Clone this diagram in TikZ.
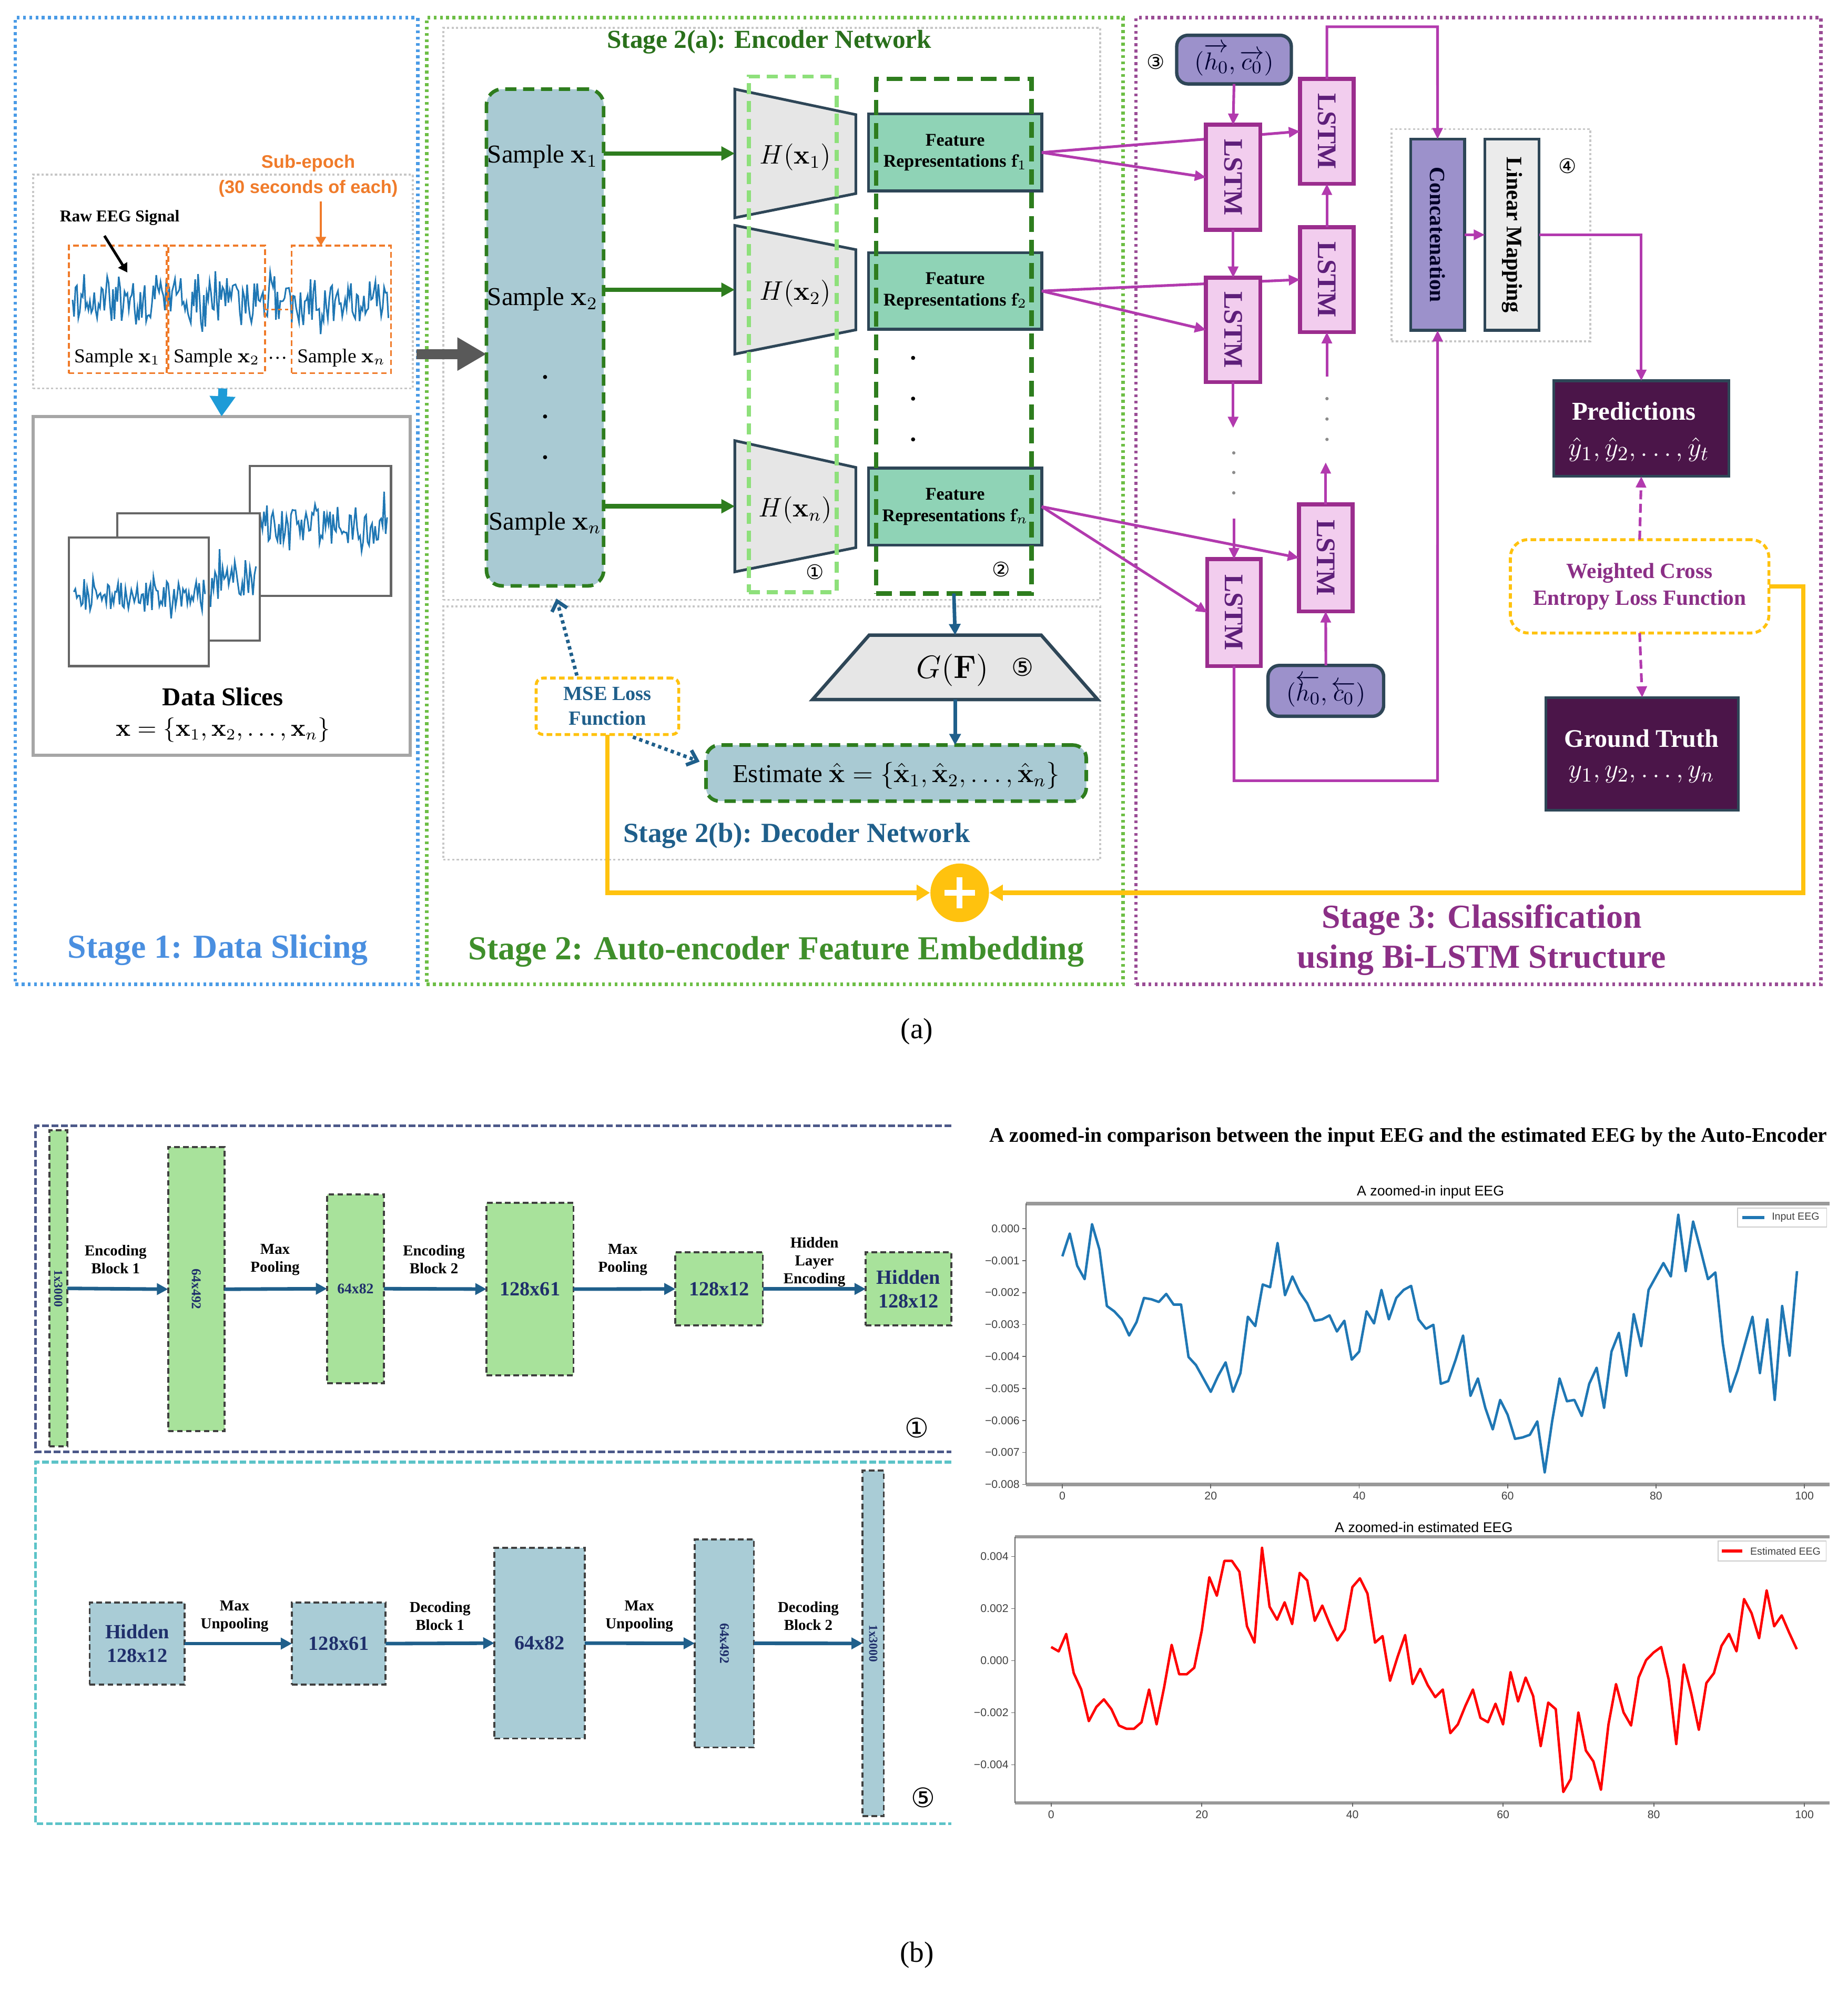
\documentclass[tikz,border=0pt]{standalone}
\usepackage[no-math]{fontspec}
\setmainfont{Liberation Serif}
\setsansfont{Liberation Sans}
\newfontfamily\dejavu{DejaVu Sans}
\usepackage{amsmath}
\usetikzlibrary{arrows.meta,calc,fit}
\definecolor{s1blue}{HTML}{4A9BE6}
\definecolor{s1txt}{HTML}{4A8FE0}
\definecolor{s2green}{HTML}{6DBE45}
\definecolor{s2txt}{HTML}{3F8F2B}
\definecolor{dkgreen}{HTML}{2E7D1E}
\definecolor{s3pur}{HTML}{9A4C95}
\definecolor{s3txt}{HTML}{8B2F86}
\definecolor{smpfill}{HTML}{A9CAD3}
\definecolor{featfill}{HTML}{8FD3B6}
\definecolor{slate}{HTML}{2E4657}
\definecolor{trapfill}{HTML}{E6E6E6}
\definecolor{ltgreen}{HTML}{8EE07B}
\definecolor{dblue}{HTML}{1F5F8B}
\definecolor{yel}{HTML}{FFC20E}
\definecolor{lstmfill}{HTML}{F2CDEE}
\definecolor{lstmdraw}{HTML}{9B2D8E}
\definecolor{lstmtxt}{HTML}{5E1F7A}
\definecolor{mag}{HTML}{B23AAE}
\definecolor{hfill}{HTML}{9C91CB}
\definecolor{maroon}{HTML}{4B1549}
\definecolor{orng}{HTML}{F07B2A}
\definecolor{eegblue}{HTML}{1F77B4}
\definecolor{encfill}{HTML}{A8E29B}
\definecolor{decfill}{HTML}{A9CCD6}
\definecolor{navy}{HTML}{1F2F6B}
\definecolor{tealc}{HTML}{5CC3C8}
\definecolor{arrblue}{HTML}{1E9BD7}
\newcommand\fsz[2]{\fontsize{#1}{#2}\selectfont}
\tikzset{
  fitbox/.style={fit={#1}, inner sep=0pt, outer sep=0pt},
  stagebox/.style={line width=1.6pt, dash pattern=on 1.3pt off 1.5pt},
  grayframe/.style={draw=black!22, line width=0.9pt, dash pattern=on 1pt off 1pt},
  segbox/.style={draw=orng, line width=0.9pt, dash pattern=on 2.5pt off 1.5pt},
  slice/.style={draw=black!60, line width=1pt, fill=white},
  smpbox/.style={fill=smpfill, draw=dkgreen, line width=1.6pt, dash pattern=on 5pt off 3pt, rounded corners=7pt},
  trap/.style={fill=trapfill, draw=slate, line width=1.2pt},
  featbox/.style={fill=featfill, draw=slate, line width=1.3pt},
  feattxt/.style={font=\bfseries\fsz{8}{9.5}, align=center, inner sep=0pt},
  lstm/.style={fill=lstmfill, draw=lstmdraw, line width=1.8pt},
  lstmlbl/.style={rotate=-90, font=\bfseries\fsz{12}{14}, text=lstmtxt},
  marr/.style={draw=mag, line width=1.2pt, -{Triangle[length=5pt,width=4.5pt]}},
  garr/.style={draw=dkgreen, line width=2pt, -{Triangle[length=6pt,width=6pt]}},
  barr/.style={draw=dblue, line width=1.6pt, -{Triangle[length=5pt,width=5pt]}},
  dotarr/.style={draw=dblue, line width=1.6pt, dash pattern=on 1.5pt off 1.5pt, -{Straight Barb[length=4pt,width=7pt]}},
  yarr/.style={draw=yel, line width=2pt, -{Triangle[length=6pt,width=7pt]}},
  hbox/.style={fill=hfill, draw=slate, line width=1.5pt, rounded corners=5pt},
  htxt/.style={font=\fsz{11}{13}, text=black!80!blue, inner sep=0pt},
  darkbox/.style={fill=maroon, draw=slate, line width=1.2pt},
  encblk/.style={fill=encfill, draw=black!75, line width=0.9pt, dash pattern=on 2.5pt off 1.5pt},
  decblk/.style={fill=decfill, draw=black!75, line width=0.9pt, dash pattern=on 2.5pt off 1.5pt},
  blktxt/.style={font=\bfseries\fsz{9}{10.5}, text=navy, align=center, inner sep=0pt},
  lbl/.style={font=\bfseries\fsz{6.8}{8}, align=center},
  tick/.style={font=\sffamily\fsz{5}{5.5}, text=black!75},
  circn/.style={font=\dejavu\fsz{9}{10}}
}
\begin{document}
\begin{tikzpicture}[x=0.2mm,y=-0.2mm]
\useasboundingbox[fill=white] (0,0) rectangle (1451,1568);

% ================= Stage frames
\node[fitbox={(12,14) (328,773)}, stagebox, draw=s1blue] (st1) {};
\node[fitbox={(335,14) (882,773)}, stagebox, draw=s2green] (st2) {};
\node[fitbox={(892,14) (1430,773)}, stagebox, draw=s3pur] (st3) {};

% ================= Stage 1
\node[fitbox={(26,137) (324,305)}, grayframe] (rawbox) {};
\pgfmathsetseed{12}
\draw[eegblue, line width=0.7pt] plot[domain=57:305, samples=220] (\x,{236+17*rand+26*rand*rand*rand});
\node[fitbox={(54,193) (131,293)}, segbox] (seg1) {};
\node[fitbox={(132,193) (208,293)}, segbox] (seg2) {};
\node[fitbox={(229,193) (307,293)}, segbox] (seg3) {};
\draw[orng, line width=0.8pt, dash pattern=on 1.5pt off 1.5pt] (seg2.east) -- (seg3.west);
\node[font=\fsz{8.8}{10}] (sx1) at (92,281) {Sample $\mathbf{x}_1$};
\node[font=\fsz{8.8}{10}] (sx2) at (170,281) {Sample $\mathbf{x}_2$};
\node[font=\fsz{8.8}{10}] (sxd) at (218,281) {\dots};
\node[font=\fsz{8.8}{10}] (sxn) at (268,281) {Sample $\mathbf{x}_n$};
\node[font=\bfseries\fsz{7.4}{9}] (rawlbl) at (94,171) {Raw EEG Signal};
\coordinate (rawtip) at (100,214);
\draw[black, line width=1.2pt, -{Triangle[length=4pt,width=4.5pt]}] ($(rawlbl.south)+(-12,2)$) -- (rawtip);
\node[font=\sffamily\bfseries\fsz{8.1}{11.3}, text=orng, align=center] (subep) at (242,138) {Sub-epoch\\(30 seconds of each)};
\coordinate (oa) at (252,158);
\draw[orng, line width=1pt, -{Triangle[length=4pt,width=4.5pt]}] (oa) -- (oa |- seg3.north);

\node[fitbox={(26,327) (322,593)}, draw=black!35, line width=1.3pt] (slices) {};
\node[fitbox={(196,366) (307,468)}, slice] (sl3) {};
\draw[eegblue,line width=0.7pt] plot[domain=199:304, samples=90] (\x,{412+15*rand+22*rand*rand*rand});
\node[fitbox={(92,403) (204,503)}, slice] (sl2) {};
\draw[eegblue,line width=0.7pt] plot[domain=95:201, samples=90] (\x,{455+15*rand+25*rand*rand*rand});
\node[fitbox={(54,422) (164,523)}, slice] (sl1) {};
\draw[eegblue,line width=0.7pt] plot[domain=58:161, samples=90] (\x,{468+11*rand+16*rand*rand*rand});
\node[font=\bfseries\fsz{11.5}{13}] (dslbl) at (175,547) {Data Slices};
\node[font=\fsz{10.5}{12}] (dsx) at (175,573) {$\mathbf{x} = \{\mathbf{x}_1, \mathbf{x}_2, \ldots, \mathbf{x}_n\}$};
\draw[draw=arrblue, line width=4pt, -{Triangle[length=9pt,width=11pt]}] (rawbox.south) -- (slices.north);
\node[font=\bfseries\fsz{15}{17}, text=s1txt] (t1) at (171,746) {Stage 1: Data Slicing};

% ================= Stage 2
\node[fitbox={(348,22) (864,471)}, grayframe] (encarea) {};
\node[fitbox={(348,476) (864,675)}, grayframe] (decarea) {};
\node[font=\bfseries\fsz{11.6}{13}, text=dkgreen!90!black] (t2a) at (604,33) {Stage 2(a): Encoder Network};

\node[fitbox={(382,70) (474,460)}, smpbox] (sbox) {};
\node[font=\fsz{11.5}{13}] (s1) at (426,123) {Sample $\mathbf{x}_1$};
\node[font=\fsz{11.5}{13}] (s2) at (426,235) {Sample $\mathbf{x}_2$};
\node[font=\fsz{11.5}{13}] (sn) at (428,411) {Sample $\mathbf{x}_n$};
\foreach \yy in {296,327,359}{\fill (428,\yy) circle (1.6);}

\coordinate (ga) at (327,278);
\draw[draw=black!65, line width=4.5pt, -{Triangle[length=13pt,width=14pt]}] (ga) -- (ga -| sbox.west);

\filldraw[trap] (577,70) -- (672,90) -- (672,152) -- (577,171) -- cycle;
\filldraw[trap] (577,177) -- (672,196) -- (672,259) -- (577,278) -- cycle;
\filldraw[trap] (577,346) -- (672,367) -- (672,430) -- (577,449) -- cycle;
\node[fitbox={(577,70) (672,171)}] (h1) {};
\node[fitbox={(577,177) (672,278)}] (h2) {};
\node[fitbox={(577,346) (672,449)}] (hn) {};
\node[font=\fsz{11.5}{13}] (h1t) at ($(h1.center)+(0,3)$) {$H(\mathbf{x}_1)$};
\node[font=\fsz{11.5}{13}] (h2t) at ($(h2.center)+(0,3)$) {$H(\mathbf{x}_2)$};
\node[font=\fsz{11.5}{13}] (hnt) at ($(hn.center)+(0,3)$) {$H(\mathbf{x}_n)$};
\node[fitbox={(588,60) (657,465)}, draw=ltgreen, line width=1.7pt, dash pattern=on 5pt off 3pt] (g1) {};
\node[circn] (c1) at (640,449) {①};

\node[fitbox={(682,89.5) (818,150)}, featbox] (f1) {};
\node[fitbox={(682,198.5) (818,258.5)}, featbox] (f2) {};
\node[fitbox={(682,367.6) (818,428)}, featbox] (fn) {};
\node[feattxt] (f1t) at (f1.center) {Feature\\Representations $\mathbf{f}_1$};
\node[feattxt] (f2t) at (f2.center) {Feature\\Representations $\mathbf{f}_2$};
\node[feattxt] (fnt) at (fn.center) {Feature\\Representations $\mathbf{f}_n$};
\foreach \yy in {281,313,345}{\fill (717,\yy) circle (1.6);}
\node[fitbox={(688,62) (810,466)}, draw=dkgreen, line width=2pt, dash pattern=on 7pt off 3.5pt] (g2) {};
\node[circn] (c2) at (786,447) {②};

\draw[garr] (sbox.east |- h1.west) -- (h1.west);
\draw[garr] (sbox.east |- h2.west) -- (h2.west);
\draw[garr] (sbox.east |- hn.west) -- (hn.west);

% decoder part
\filldraw[trap, line width=1.5pt] (682.5,498.7) -- (817.6,498.7) -- (862,549.3) -- (638,549.3) -- cycle;
\node[fitbox={(638,498.7) (862,549.3)}] (G) {};
\node[font=\fsz{14}{16}] (glbl) at (748,526) {$G(\mathbf{F})$};
\node[font=\dejavu\fsz{11}{12}] (c5a) at (803,524) {⑤};
\node[fitbox={(554.4,585) (853,629)}, smpbox, rounded corners=6pt] (est) {};
\node[font=\fsz{11.5}{13}, inner sep=0pt] (estt) at ($(est.center)+(0,2)$) {Estimate $\hat{\mathbf{x}} = \{\hat{\mathbf{x}}_1, \hat{\mathbf{x}}_2, \ldots, \hat{\mathbf{x}}_n\}$};
\draw[barr] (g2.south) -- (G.north);
\draw[barr] (G.south) -- (G.south |- est.north);

\node[fitbox={(421,532.4) (533,576.7)}, draw=yel, fill=white, line width=1.3pt, dash pattern=on 2.5pt off 1.5pt, rounded corners=3pt] (mse) {};
\node[font=\bfseries\fsz{9}{11}, text=dblue, align=center, inner sep=0pt] (mset) at (mse.center) {MSE Loss\\Function};
\draw[dotarr] ($(mse.north)+(-24,-2)$) -- ($(sbox.south)+(9,10)$);
\draw[dotarr] ($(mse.south east)+(-36,2)$) -- ($(est.west)+(-5,-9)$);
\node[font=\bfseries\fsz{12.4}{14}, text=dblue] (t2b) at (625.6,656) {Stage 2(b): Decoder Network};

\node[circle, fill=yel, minimum size=9.2mm, inner sep=0pt] (plus) at (753.6,701) {};
\draw[white, line width=2.6pt] ($(plus.center)+(-12,0)$) -- ($(plus.center)+(12,0)$);
\draw[white, line width=2.6pt] ($(plus.center)+(0,-12)$) -- ($(plus.center)+(0,12)$);
\node[font=\bfseries\fsz{15}{17}, text=s2txt] (t2) at (609.5,747) {Stage 2: Auto-encoder Feature Embedding};

% ================= Stage 3
\node[fitbox={(924,27.7) (1014,65.9)}, hbox] (h0t) {};
\node[htxt] (h0tt) at (h0t.center) {$(\overrightarrow{h_0}, \overrightarrow{c_0})$};
\node[fitbox={(995.7,522.5) (1086.5,562.4)}, hbox] (h0b) {};
\node[htxt] (h0bt) at (h0b.center) {$(\overleftarrow{h_0}, \overleftarrow{c_0})$};
\node[circn] (c3) at (907.7,48.7) {③};

\node[fitbox={(1020.8,62) (1063,144.3)}, lstm] (R1) {};
\node[fitbox={(1020.8,178.3) (1063,260.8)}, lstm] (R2) {};
\node[fitbox={(1020,396) (1062,480)}, lstm] (R3) {};
\draw[marr] (f1.east) -- (R1.west);
\draw[marr] (f2.east) -- (R2.west);
\draw[marr] (fn.east) -- (R3.west);
\node[fitbox={(947,98) (989.6,180.4)}, lstm] (L1) {};
\node[fitbox={(947,218) (989.6,300)}, lstm] (L2) {};
\node[fitbox={(948,439) (990,523)}, lstm] (L3) {};
\foreach \n in {L1,L2,L3,R1,R2,R3}{\node[lstmlbl] (\n t) at (\n) {LSTM};}
\draw[marr] (f1.east) -- (L1.west);
\draw[marr] (f2.east) -- (L2.west);
\draw[marr] (fn.east) -- (L3.west);

\draw[marr] (h0t.south) -- (L1.north);
\draw[marr] (L1.south) -- (L2.north);
\draw[marr] (L2.south) -- ++(0,36);
\foreach \yy in {355.6,371,387}{\fill[black!45] (968.8,\yy) circle (1.3);}
\draw[marr] ($(L3.north)+(0,-32)$) -- (L3.north);
\draw[marr] (h0b.north) -- (R3.south);
\draw[marr] (R3.north) -- ++(0,-33);
\foreach \yy in {313,329,345}{\fill[black!45] (1042,\yy) circle (1.3);}
\draw[marr] ($(R2.south)+(0,35)$) -- (R2.south);
\draw[marr] (R2.north) -- (R1.south);

\node[fitbox={(1092.6,101.4) (1248.8,268)}, grayframe] (grp) {};
\node[fitbox={(1107.7,109.3) (1150,259.4)}, fill=hfill, draw=slate, line width=1.3pt] (concat) {};
\node[fitbox={(1166,109.3) (1208.6,259.4)}, fill=black!8, draw=slate, line width=1.3pt] (lin) {};
\node[rotate=-90, font=\bfseries\fsz{9.7}{11}, text=black!85!blue] (concatt) at (concat) {Concatenation};
\node[rotate=-90, font=\bfseries\fsz{9.9}{11}] (lint) at (lin) {Linear Mapping};
\node[circn] (c4) at (1230.8,130.4) {④};

\coordinate (tb) at (1128.8,21);
\draw[marr] (R1.north) |- (tb) -- (concat.north);
\coordinate (bb) at (1128.8,613);
\draw[marr] (L3.south) |- (bb) -- (concat.south);
\draw[marr] (concat.east) -- (lin.west);

\node[fitbox={(1220,299) (1357.6,374)}, darkbox] (pred) {};
\node[font=\bfseries\fsz{11.5}{13}, text=white] (predt) at (1283,322.7) {Predictions};
\node[font=\fsz{13}{15}, text=white] (predy) at (1287,353) {$\hat{y}_1 , \hat{y}_2, \ldots , \hat{y}_t$};
\node[fitbox={(1214,547.7) (1365,636)}, darkbox] (gt) {};
\node[font=\bfseries\fsz{11.3}{13}, text=white] (gtt) at (1289,580) {Ground Truth};
\node[font=\fsz{13}{15}, text=white] (gty) at (1289,608) {$y_1, y_2, \ldots, y_n$};
\node[fitbox={(1186,423.7) (1389,497)}, draw=yel, line width=1.3pt, dash pattern=on 2.5pt off 1.5pt, rounded corners=8pt] (wce) {};
\node[font=\bfseries\fsz{9.7}{12}, text=s3txt, align=center, inner sep=0pt] (wcet) at (wce.center) {Weighted Cross\\Entropy Loss Function};

\draw[marr] (lin.east) -| (pred.north);
\draw[marr, dash pattern=on 4pt off 2pt] (wce.north) -- (pred.south);
\draw[marr, dash pattern=on 4pt off 2pt] (wce.south) -- (gt.north);

\coordinate (yc) at (1416,701);
\draw[yarr] (wce.east) -| (yc) -- (plus.east);
\draw[yarr] (mse.south) |- (plus.west);

\node[font=\bfseries\fsz{15}{18}, text=s3txt, align=center] (t3) at (1163.5,738) {Stage 3: Classification\\using Bi-LSTM Structure};

\node[font=\fsz{13}{15}] (la) at (720,810) {(a)};

% ================= (b) encoder / decoder
\draw[navy!80, line width=1.2pt, dash pattern=on 3pt off 1.2pt] (747,884) -- (28,884) -- (28,1140) -- (747,1140);
\draw[tealc, line width=1.2pt, dash pattern=on 3pt off 1.2pt] (747,1148) -- (28,1148) -- (28,1432) -- (747,1432);

\node[fitbox={(38.7,887.5) (52.9,1135.7)}, encblk] (e1) {};
\node[fitbox={(132,900.7) (176.2,1123.8)}, encblk] (e2) {};
\node[fitbox={(256.8,937.7) (301.4,1086)}, encblk] (e3) {};
\node[fitbox={(382,944.5) (450.3,1079.8)}, encblk] (e4) {};
\node[fitbox={(530.4,983.4) (599,1040.7)}, encblk] (e5) {};
\node[fitbox={(679.8,983.4) (747,1040.7)}, encblk] (e6) {};
\node[rotate=-90, font=\bfseries\fsz{5.5}{6}, text=navy] (e1t) at (e1) {1x3000};
\node[rotate=-90, font=\bfseries\fsz{6}{7}, text=navy] (e2t) at (e2) {64x492};
\node[blktxt, font=\bfseries\fsz{6.5}{7.5}] (e3t) at (e3) {64x82};
\node[blktxt] (e4t) at (e4) {128x61};
\node[blktxt] (e5t) at (e5) {128x12};
\node[blktxt] (e6t) at (e6) {Hidden\\128x12};
\draw[barr] (e1.east) -- (e2.west);
\draw[barr] (e2.east) -- (e3.west);
\draw[barr] (e3.east) -- (e4.west);
\draw[barr] (e4.east) -- (e5.west);
\draw[barr] (e5.east) -- (e6.west);
\node[lbl] (el1) at (90.8,989) {Encoding\\Block 1};
\node[lbl] (el2) at (216,989) {Max\\Pooling};
\node[lbl] (el3) at (340.7,989) {Encoding\\Block 2};
\node[lbl] (el4) at (489,989) {Max\\Pooling};
\node[lbl] (el5) at (639.5,991) {Hidden\\Layer\\Encoding};
\node[font=\dejavu\fsz{12}{13}] (cb1) at (720,1121) {①};

\node[fitbox={(70.4,1258.4) (145,1322.6)}, decblk] (d1) {};
\node[fitbox={(229.3,1258.4) (302.8,1322.6)}, decblk] (d2) {};
\node[fitbox={(388.2,1215.3) (459.3,1365)}, decblk] (d3) {};
\node[fitbox={(545.6,1208.6) (592,1372)}, decblk] (d4) {};
\node[fitbox={(677.4,1154.7) (694,1426)}, decblk] (d5) {};
\node[blktxt] (d1t) at (d1) {Hidden\\128x12};
\node[blktxt] (d2t) at (d2) {128x61};
\node[blktxt] (d3t) at (d3) {64x82};
\node[rotate=-90, font=\bfseries\fsz{6}{7}, text=navy] (d4t) at (d4) {64x492};
\node[rotate=-90, font=\bfseries\fsz{5.5}{6}, text=navy] (d5t) at (d5) {1x3000};
\draw[barr] (d1.east) -- (d2.west);
\draw[barr] (d2.east) -- (d3.west);
\draw[barr] (d3.east) -- (d4.west);
\draw[barr] (d4.east) -- (d5.west);
\node[lbl] (dl1) at (184.2,1269) {Max\\Unpooling};
\node[lbl] (dl2) at (345.5,1269) {Decoding\\Block 1};
\node[lbl] (dl3) at (502,1269) {Max\\Unpooling};
\node[lbl] (dl4) at (634.7,1269) {Decoding\\Block 2};
\node[font=\dejavu\fsz{12}{13}] (cb5) at (724.8,1411.5) {⑤};

% ================= charts
\node[font=\bfseries\fsz{9.3}{11}] (ctitle) at (1105.8,892.7) {A zoomed-in comparison between the input EEG and the estimated EEG by the Auto-Encoder};

% chart 1
\node[font=\sffamily\fsz{6.3}{7}] (c1title) at (1123.3,935.9) {A zoomed-in input EEG};
\draw[black!40, line width=1.5pt] (805.7,945) -- (1436.6,945);
\draw[black!40, line width=1.5pt] (805.7,1165.5) -- (1436.6,1165.5);
\draw[black!60, line width=0.6pt] (805.7,945) -- (805.7,1165.5);
\foreach \k/\lab in {0/0.000,1/−0.001,2/−0.002,3/−0.003,4/−0.004,5/−0.005,6/−0.006,7/−0.007,8/−0.008}{
  \draw[black!60, line width=0.4pt] (805.7,{964.7+\k*25.1}) -- ++(-3,0) node[left, tick, inner sep=1pt] (c1y\k) {\lab};}
\foreach \j/\lab in {0/0,1/20,2/40,3/60,4/80,5/100}{
  \draw[black!60, line width=0.4pt] ({834.2+\j*116.54},1165.5) -- ++(0,3) node[below, tick, inner sep=1.5pt] (c1x\j) {\lab};}
\begin{scope}[shift={(834.2,867.4)}, xscale=5.827, yscale=0.2107]
\draw[eegblue, line width=1.1pt, line join=round] plot coordinates {(0,565) (1,480) (2,600) (3,650) (4,445) (5,540) (6,750) (7,770) (8,800) (9,860) (10,810) (11,720) (12,725) (13,735) (14,705) (15,745) (16,745) (17,940) (18,970) (19,1020) (20,1070) (21,1010) (22,960) (23,1070) (24,1000) (25,790) (26,825) (27,670) (28,680) (29,515) (30,710) (31,640) (32,700) (33,740) (34,805) (35,800) (36,785) (37,845) (38,805) (39,950) (40,920) (41,770) (42,815) (43,690) (44,800) (45,720) (46,690) (47,675) (48,800) (49,835) (50,820) (51,1040) (52,1030) (53,950) (54,860) (55,1085) (56,1020) (57,1130) (58,1210) (59,1100) (60,1155) (61,1245) (62,1240) (63,1230) (64,1180) (65,1370) (66,1180) (67,1020) (68,1105) (69,1100) (70,1160) (71,1040) (72,980) (73,1130) (74,920) (75,850) (76,1010) (77,780) (78,900) (79,690) (80,640) (81,590) (82,640) (83,410) (84,620) (85,435) (86,540) (87,650) (88,625) (89,890) (90,1070) (91,990) (92,890) (93,790) (94,1000) (95,800) (96,1100) (97,750) (98,935) (99,620)};
\end{scope}
\node[fitbox={(1364.3,948.5) (1434.4,963.3)}, draw=black!20, fill=white, line width=0.4pt] (leg1) {};
\draw[eegblue, line width=1.3pt] ($(leg1.west)+(4,0)$) -- ($(leg1.west)+(21,0)$);
\node[tick, font=\sffamily\fsz{4.6}{5}] (leg1t) at (1410,956) {Input EEG};

% chart 2
\node[font=\sffamily\fsz{6.3}{7}] (c2title) at (1118,1199) {A zoomed-in estimated EEG};
\draw[black!40, line width=1.5pt] (797,1206.7) -- (1436.6,1206.7);
\draw[black!40, line width=1.5pt] (797,1415.6) -- (1436.6,1415.6);
\draw[black!60, line width=0.6pt] (797,1206.7) -- (797,1415.6);
\foreach \k/\lab in {0/0.004,1/0.002,2/0.000,3/−0.002,4/−0.004}{
  \draw[black!60, line width=0.4pt] (797,{1222.1+\k*40.9}) -- ++(-3,0) node[left, tick, inner sep=1pt] (c2y\k) {\lab};}
\foreach \j/\lab in {0/0,1/20,2/40,3/60,4/80,5/100}{
  \draw[black!60, line width=0.4pt] ({825.4+\j*118.3},1415.6) -- ++(0,3) node[below, tick, inner sep=1.5pt] (c2x\j) {\lab};}
\begin{scope}[shift={(825.4,1189.6)}, xscale=5.914, yscale=0.1712]
\draw[red, line width=1.1pt, line join=round] plot coordinates {(0,605) (1,625) (2,545) (3,725) (4,800) (5,945) (6,880) (7,845) (8,890) (9,965) (10,980) (11,980) (12,950) (13,800) (14,960) (15,790) (16,595) (17,730) (18,730) (19,700) (20,530) (21,285) (22,370) (23,210) (24,210) (25,260) (26,510) (27,585) (28,150) (29,420) (30,480) (31,400) (32,500) (33,265) (34,300) (35,485) (36,415) (37,500) (38,575) (39,525) (40,330) (41,290) (42,360) (43,585) (44,555) (45,760) (46,650) (47,550) (48,775) (49,705) (50,780) (51,835) (52,800) (53,1000) (54,960) (55,875) (56,800) (57,930) (58,950) (59,865) (60,960) (61,720) (62,855) (63,745) (64,830) (65,1060) (66,860) (67,890) (68,1270) (69,1210) (70,905) (71,1080) (72,1130) (73,1260) (74,960) (75,775) (76,905) (77,965) (78,745) (79,665) (80,630) (81,605) (82,755) (83,1050) (84,685) (85,820) (86,985) (87,770) (88,725) (89,600) (90,545) (91,625) (92,385) (93,450) (94,565) (95,345) (96,510) (97,460) (98,540) (99,615)};
\end{scope}
\node[fitbox={(1349,1210) (1434,1225.6)}, draw=black!20, fill=white, line width=0.4pt] (leg2) {};
\draw[red, line width=1.3pt] ($(leg2.west)+(3,0)$) -- ($(leg2.west)+(19,0)$);
\node[tick, font=\sffamily\fsz{4.6}{5}] (leg2t) at (1402,1217.8) {Estimated EEG};

\node[font=\fsz{13}{15}] (lb) at (720,1535) {(b)};
\end{tikzpicture}
\end{document}
